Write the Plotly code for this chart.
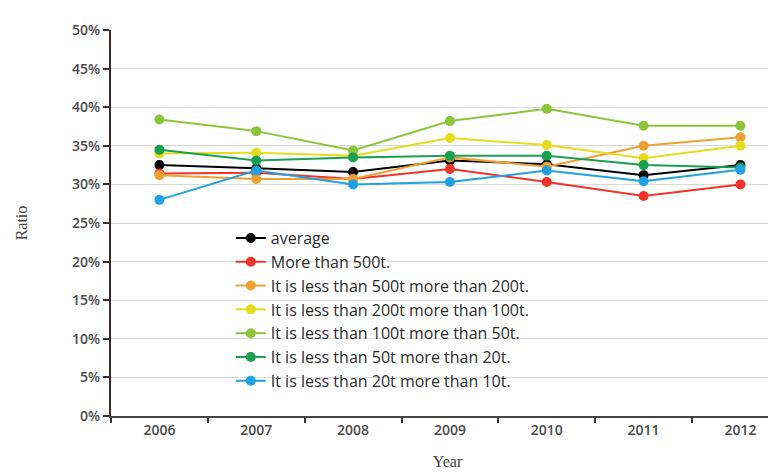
import plotly.graph_objects as go

years = ["2006", "2007", "2008", "2009", "2010", "2011", "2012"]
names = [
    "average",
    "More than 500t.",
    "It is less than 500t more than 200t.",
    "It is less than 200t more than 100t.",
    "It is less than 100t more than 50t.",
    "It is less than 50t more than 20t.",
    "It is less than 20t more than 10t.",
]
average = [32.5, 32.1, 31.6, 33.1, 32.6, 31.2, 32.5]
over500 = [31.4, 31.5, 30.7, 32.0, 30.3, 28.5, 30.0]
t200_500 = [31.2, 30.7, 30.7, 33.5, 32.3, 35.0, 36.1]
t100_200 = [34.0, 34.1, 33.7, 36.0, 35.1, 33.4, 35.0]
t50_100 = [38.4, 36.9, 34.4, 38.2, 39.8, 37.6, 37.6]
t20_50 = [34.5, 33.1, 33.5, 33.7, 33.7, 32.5, 32.2]
t10_20 = [28.0, 31.8, 30.0, 30.3, 31.8, 30.4, 31.9]

series = [average, over500, t200_500, t100_200, t50_100, t20_50, t10_20]
colors = ["#000000", "#f2332a", "#f0a030", "#e6dc1e", "#8cc43c", "#18a050", "#1ea2e4"]

fig = go.Figure()
for i, (nm, vals, col) in enumerate(zip(names, series, colors)):
    fig.add_trace(go.Scatter(
        x=years, y=[v / 100 for v in vals], name=nm, mode="lines+markers",
        line=dict(color=col, width=2), marker=dict(color=col, size=10),
        legendgroup=str(i),
    ))

fig.update_layout(
    width=776, height=472,
    margin=dict(l=103, r=0, t=22, b=64),
    paper_bgcolor="white", plot_bgcolor="white",
    showlegend=True,
    legend=dict(
        x=0.178, y=0.505, xanchor="left", yanchor="top",
        bgcolor="rgba(0,0,0,0)",
        font=dict(family="Open Sans", size=16, color="#2a2a2a", weight=500),
        tracegroupgap=0, itemwidth=30,
    ),
    xaxis=dict(
        type="category", range=[-0.5, 6.45], tickson="boundaries",
        ticks="outside", ticklen=5, tickcolor="#333", tickwidth=2,
        showline=True, linecolor="#444", linewidth=2, showgrid=False,
        tickfont=dict(family="Open Sans", size=14, color="#4a4a4a", weight=600),
        automargin=False,
        title=dict(text="Year", font=dict(family="Liberation Serif", size=16, color="#444"), standoff=18),
    ),
    yaxis=dict(
        range=[0, 0.5], dtick=0.05, tickformat=".0%",
        ticks="outside", ticklen=6, tickcolor="#333", tickwidth=2,
        showline=True, linecolor="#3a2a2a", linewidth=2,
        showgrid=True, gridcolor="#dadada", gridwidth=1, zeroline=False,
        tickfont=dict(family="Open Sans", size=14, color="#4a4a4a", weight=600),
        automargin=False,
        title=dict(text="Ratio", font=dict(family="Liberation Serif", size=16, color="#444"), standoff=40),
    ),
)

fig.write_html("out.html")
